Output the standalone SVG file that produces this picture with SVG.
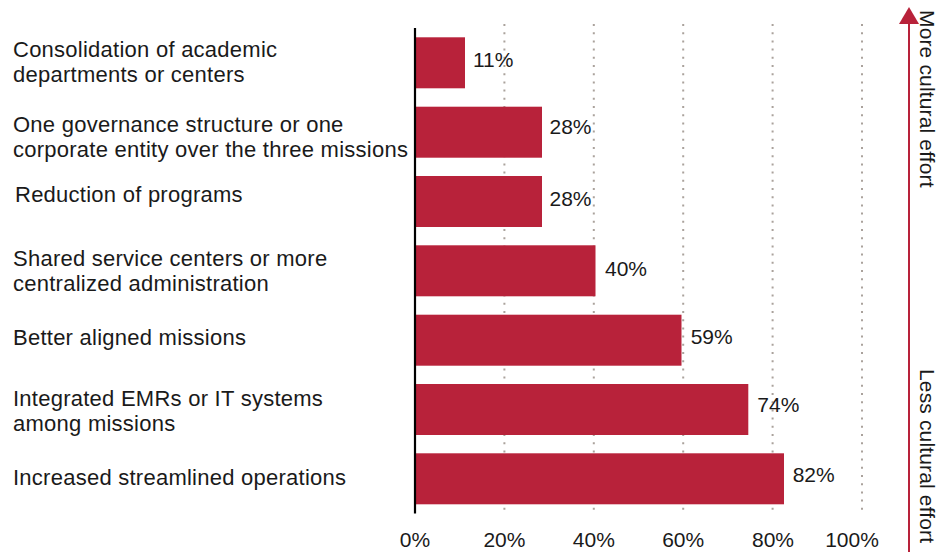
<svg xmlns="http://www.w3.org/2000/svg" width="949" height="552" viewBox="0 0 949 552">
<style>
  text { font-family: "Liberation Sans", Arial, Helvetica, sans-serif; fill: #1a1a1a; }
  .lbl { font-size: 22px; letter-spacing: 0.25px; }
  .val { font-size: 21px; }
  .tick { font-size: 21px; text-anchor: middle; }
  .side { font-size: 21px; letter-spacing: 0.15px; }
  .bar { fill: #b8223a; }
  .grid { stroke: #aaa29c; stroke-width: 2; stroke-dasharray: 2 6.2; fill: none; }
</style>
<defs>
  <marker id="ah" viewBox="0 0 17 20" refX="0" refY="10" markerWidth="17" markerHeight="20" markerUnits="userSpaceOnUse" orient="auto">
    <path d="M0,0 L17,10 L0,20 Z" fill="#b8223a"/>
  </marker>
</defs>
<rect width="949" height="552" fill="#ffffff"/>

<g id="gridlines">
  <line class="grid" x1="504.4" y1="24" x2="504.4" y2="514"/>
  <line class="grid" x1="593.8" y1="24" x2="593.8" y2="514"/>
  <line class="grid" x1="683.2" y1="24" x2="683.2" y2="514"/>
  <line class="grid" x1="772.6" y1="24" x2="772.6" y2="514"/>
  <line class="grid" x1="862" y1="24" x2="862" y2="514"/>
</g>

<g id="row1">
  <rect class="bar" x="415" y="37.3" width="50" height="51"/>
  <text class="lbl" x="13" y="57">Consolidation of academic</text>
  <text class="lbl" x="13" y="82">departments or centers</text>
  <text class="val" x="473" y="66.7">11%</text>
</g>
<g id="row2">
  <rect class="bar" x="415" y="106.7" width="127" height="51"/>
  <text class="lbl" x="13" y="131.7">One governance structure or one</text>
  <text class="lbl" x="13" y="156.7">corporate entity over the three missions</text>
  <text class="val" x="549.5" y="134">28%</text>
</g>
<g id="row3">
  <rect class="bar" x="415" y="176" width="127" height="51"/>
  <text class="lbl" x="15" y="201.7">Reduction of programs</text>
  <text class="val" x="549.5" y="206">28%</text>
</g>
<g id="row4">
  <rect class="bar" x="415" y="245.3" width="180.5" height="51"/>
  <text class="lbl" x="13" y="266">Shared service centers or more</text>
  <text class="lbl" x="13" y="291">centralized administration</text>
  <text class="val" x="605" y="275.7">40%</text>
</g>
<g id="row5">
  <rect class="bar" x="415" y="314.7" width="266.5" height="51"/>
  <text class="lbl" x="13" y="345">Better aligned missions</text>
  <text class="val" x="690.7" y="344">59%</text>
</g>
<g id="row6">
  <rect class="bar" x="415" y="384" width="333.3" height="51"/>
  <text class="lbl" x="13" y="406">Integrated EMRs or IT systems</text>
  <text class="lbl" x="13" y="431">among missions</text>
  <text class="val" x="757.3" y="412.3">74%</text>
</g>
<g id="row7">
  <rect class="bar" x="415" y="453.3" width="369" height="51"/>
  <text class="lbl" x="13" y="485">Increased streamlined operations</text>
  <text class="val" x="792.7" y="482.3">82%</text>
</g>

<g id="axis">
  <line x1="415" y1="28" x2="415" y2="513.5" stroke="#000" stroke-width="2.2"/>
  <text class="tick" x="415" y="546.7">0%</text>
  <text class="tick" x="504.4" y="546.7">20%</text>
  <text class="tick" x="593.8" y="546.7">40%</text>
  <text class="tick" x="683.2" y="546.7">60%</text>
  <text class="tick" x="773" y="546.7">80%</text>
  <text class="tick" x="852" y="546.7">100%</text>
</g>

<g id="connectors">
  <line x1="909" y1="552" x2="909" y2="24" stroke="#b8223a" stroke-width="2" marker-end="url(#ah)"/>
</g>

<g id="effort-labels">
  <text class="side" transform="translate(920,10) rotate(90)">More cultural effort</text>
  <text class="side" transform="translate(920,369) rotate(90)">Less cultural effort</text>
</g>
</svg>
